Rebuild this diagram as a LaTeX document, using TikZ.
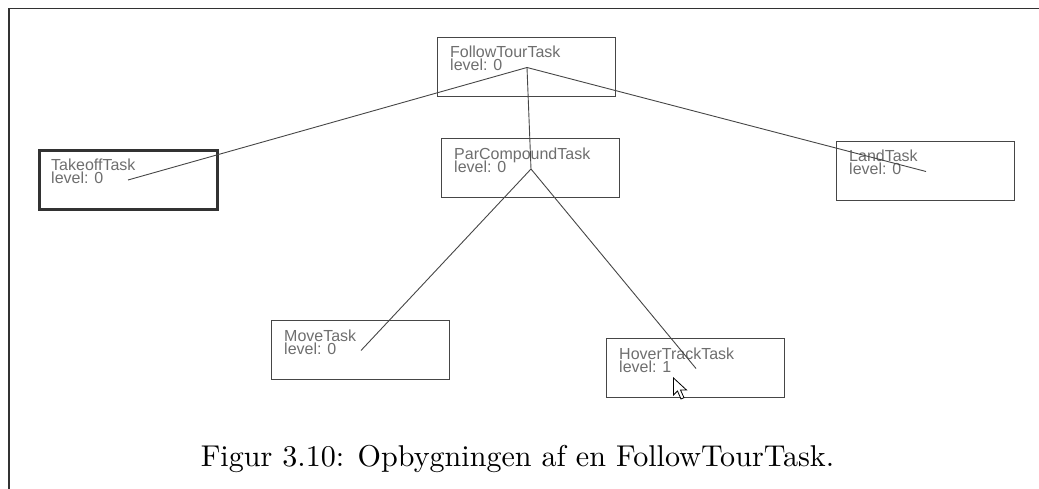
\documentclass[tikz,border=0pt]{standalone}
\usepackage{fontspec}
\newfontfamily\boxfont{Liberation Sans}
\newfontfamily\capfont{lmroman10-regular}[Extension=.otf]
\usetikzlibrary{calc}
\definecolor{frameline}{RGB}{50,50,50}
\definecolor{boxline}{RGB}{70,70,70}
\definecolor{boxtext}{RGB}{110,110,110}
\tikzset{
  taskbox/.style={draw=boxline, line width=1pt, minimum width=178pt, minimum height=59pt,
    inner sep=0pt, anchor=north west},
  selbox/.style={taskbox, draw=frameline, line width=2.6pt},
  tasklabel/.style={anchor=base west, inner sep=0pt, text=boxtext,
    font=\boxfont\fontsize{16}{16}\selectfont},
  link/.style={draw=boxline, line width=0.9pt},
  frame/.style={draw=frameline, line width=1.6pt},
}
\newcommand{\task}[5]{% name, style, position, title, level
  \node[#2] (#1) at (#3) {};
  \node[tasklabel] (#1-name) at ($(#1.north west)+(13,21)$) {#4};
  \node[tasklabel] (#1-level) at ($(#1.north west)+(13,34)$) {level: #5};
  \coordinate (#1-hub) at ($(#1.north west)+(90,30.5)$);
}
\begin{document}
\begin{tikzpicture}[x=1pt, y=-1pt]
  \useasboundingbox (0,0) rectangle (1039,489);
  % outer frame (top and left edges only)
  \coordinate (fr-tl) at (9,8.6);
  \coordinate (fr-tr) at (1039,8.6);
  \coordinate (fr-bl) at (9,489);
  \draw[frame] (fr-tr) -- (fr-tl) -- (fr-bl);

  % task nodes
  \task{ft}{taskbox}{437,37}{FollowTourTask}{0}
  \task{to}{selbox}{38,149.5}{TakeoffTask}{0}
  \task{ld}{taskbox}{836,141}{LandTask}{0}
  \task{pc}{taskbox}{441,138.5}{ParCompoundTask}{0}
  \task{mv}{taskbox}{271,320}{MoveTask}{0}
  \task{hv}{taskbox}{606,338}{HoverTrackTask}{1}

  % tree connectors
  \draw[link] (ft-hub) -- (to-hub);
  \draw[link] (ft-hub) -- (ld-hub);
  \draw[link] (ft-hub) -- (pc-hub);
  \draw[link] (pc-hub) -- (mv-hub);
  \draw[link] (pc-hub) -- (hv-hub);

  % mouse pointer
  \coordinate (cur) at (673.5,378);
  \draw[black, fill=white, line width=0.8pt, line join=miter]
    (cur) -- ++(0,17) -- ++(4,-4) -- ++(3.5,8) -- ++(3,-1.3) -- ++(-3.5,-7.7) -- ++(6,0) -- cycle;

  % caption
  \node[anchor=base, inner sep=0pt, font=\capfont\fontsize{30.1}{36}\selectfont] (cap) at (517.5,466)
    {Figur 3.10: Opbygningen af en FollowTourTask.};
\end{tikzpicture}
\end{document}
